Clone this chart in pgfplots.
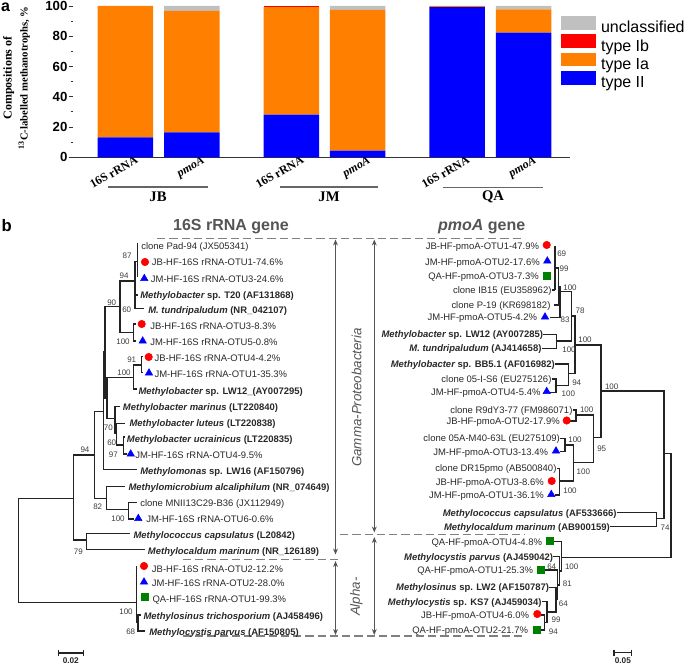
\documentclass[border=0pt]{standalone}
\usepackage{fontspec}
\setmainfont{Liberation Sans}
\newfontfamily\tnr{Liberation Serif}
\usepackage{pgfplots}
\pgfplotsset{compat=1.18}
\usetikzlibrary{arrows.meta}

\definecolor{cII}{RGB}{0,0,255}
\definecolor{cIa}{RGB}{255,128,0}
\definecolor{cIb}{RGB}{255,0,0}
\definecolor{cun}{RGB}{192,192,192}
\definecolor{treec}{RGB}{35,35,35}
\definecolor{labc}{RGB}{40,40,40}
\definecolor{bsc}{RGB}{60,60,60}
\definecolor{titc}{RGB}{85,85,85}
\definecolor{dashc}{RGB}{128,128,128}
\definecolor{sqg}{RGB}{0,128,0}

\newcommand\lab{\fontsize{7.1}{8}\selectfont}
% leaf label, text starts at x (left tree)
\newcommand{\leafL}[3]{\node[anchor=base west,inner sep=0pt,yshift=-2.54pt,text=labc,font=\lab] at (axis cs:#1,#2) {#3};}
% leaf label, text ends at x (right tree)
\newcommand{\leafR}[3]{\node[anchor=base east,inner sep=0pt,yshift=-2.54pt,text=labc,font=\lab] at (axis cs:#1,#2) {#3};}
% bootstrap value
\newcommand{\bs}[3]{\node[inner sep=0pt,text=bsc,font=\fontsize{6}{6}\selectfont] at (axis cs:#1,#2) {#3};}
\newcommand{\seg}[1]{\addplot[treec,line width=0.95pt,mark=none] coordinates {#1};}

\begin{document}
\begin{tikzpicture}
\begin{axis}[
  at={(0,0)}, anchor=south west,
  scale only axis, width=513.75pt, height=499.5pt,
  xmin=0, xmax=685, ymin=0, ymax=666, y dir=reverse,
  hide axis, clip=false]
\coordinate (tl) at (axis cs:0,0);
\coordinate (br) at (axis cs:685,666);
\coordinate (barsw) at (axis cs:73,157.3);

% ---------- panel a annotations ----------
\node[font=\bfseries\fontsize{12}{12}\selectfont] at (axis cs:5.5,7.5) {a};
\node[rotate=90,align=center,font=\tnr\bfseries] at (axis cs:16.5,78)
  {\fontsize{9}{13.5}\selectfont Compositions of\\\fontsize{8}{13.5}\selectfont\textsuperscript{13}C-labelled methanotrophs, \%};
\addplot[black!60,line width=0.9pt,mark=none] coordinates {(108,187)(208,187)};
\addplot[black!60,line width=0.9pt,mark=none] coordinates {(280,187)(378.3,187)};
\addplot[black!60,line width=0.9pt,mark=none] coordinates {(443.3,187.5)(542.7,187.5)};
\node[font=\tnr\bfseries\fontsize{11}{11}\selectfont] at (axis cs:158,197) {JB};
\node[font=\tnr\bfseries\fontsize{11}{11}\selectfont] at (axis cs:329,197) {JM};
\node[font=\tnr\bfseries\fontsize{11}{11}\selectfont] at (axis cs:493,197) {QA};

% ---------- panel b headers ----------
\node[font=\bfseries\fontsize{12.5}{12.5}\selectfont] at (axis cs:6.7,226) {b};
\node[font=\bfseries\fontsize{12}{12}\selectfont,text=titc] at (axis cs:231,226.7) {16S rRNA gene};
\node[font=\bfseries\fontsize{12}{12}\selectfont,text=titc] at (axis cs:481.7,226.7) {\textit{pmoA} gene};
\node[rotate=90,font=\itshape\fontsize{10}{10}\selectfont,text=titc] at (axis cs:356.5,397.5) {Gamma-Proteobacteria};
\node[rotate=90,font=\itshape\fontsize{10}{10}\selectfont,text=titc] at (axis cs:356.5,596.7) {Alpha-};

% dashed group separators and arrows
\addplot[dashc,line width=1pt,dash pattern=on 6.2pt off 3pt,mark=none] coordinates {(157,238.5)(525,238.5)};
\addplot[dashc,line width=1pt,dash pattern=on 6.2pt off 3pt,mark=none] coordinates {(182.7,559.3)(340,559.3)};
\addplot[dashc,line width=1pt,dash pattern=on 6.2pt off 3pt,mark=none] coordinates {(340,534.3)(525,534.3)};
\addplot[dashc,line width=1pt,dash pattern=on 6.2pt off 3pt,mark=none] coordinates {(182.7,636)(525,636)};
\addplot[titc,line width=0.6pt,mark=none,{Stealth[length=4.5pt,width=3.6pt]}-{Stealth[length=4.5pt,width=3.6pt]}] coordinates {(335.5,239.5)(335.5,554.5)};
\addplot[titc,line width=0.6pt,mark=none,{Stealth[length=4.5pt,width=3.6pt]}-{Stealth[length=4.5pt,width=3.6pt]}] coordinates {(335.5,561)(335.5,635)};
\addplot[titc,line width=0.6pt,mark=none,{Stealth[length=4.5pt,width=3.6pt]}-{Stealth[length=4.5pt,width=3.6pt]}] coordinates {(374.3,239.5)(374.3,532.5)};
\addplot[titc,line width=0.6pt,mark=none,{Stealth[length=4.5pt,width=3.6pt]}-{Stealth[length=4.5pt,width=3.6pt]}] coordinates {(374.3,537)(374.3,635)};

% ---------- 16S rRNA tree ----------
\seg{(73.3,498.3)(18.3,498.3)(18.3,602.3)(136.7,602.3)}
\seg{(94.3,455)(73.3,455)(73.3,540)(86.7,540)}
\seg{(130,533.3)(86.7,533.3)(86.7,549.3)(145,549.3)}
\seg{(103.3,411.7)(94.3,411.7)(94.3,498.3)(106.7,498.3)}
\seg{(125,486.7)(106.7,486.7)(106.7,509.3)(128.3,509.3)}
\seg{(136.7,502.3)(128.3,502.3)(128.3,519)(134,519)}
\seg{(105,352)(103.3,352)(103.3,469.3)(136.7,469.3)}
\seg{(120,306.7)(105,306.7)(105,398)(107,398)}
\seg{(133.3,377.3)(107,377.3)(107,418.3)(115,418.3)}
\seg{(120,406.7)(115,406.7)(115,433)(116.7,433)}
\seg{(125,423.3)(116.7,423.3)(116.7,445)(123.3,445)}
\seg{(125,437)(123.3,437)(123.3,454)(127,454)}
\seg{(136.7,389)(133.3,389)(133.3,365)(141.7,365)}
\seg{(143,356.7)(141.7,356.7)(141.7,372.7)(143,372.7)}
\seg{(133.3,332.3)(120,332.3)(120,281)(135,281)}
\seg{(136,324)(133.3,324)(133.3,341)(136,341)}
\seg{(137.3,261.7)(135,261.7)(135,308.3)(144,308.3)}
\seg{(135,295)(138,295)}
\seg{(137.3,243)(137.3,277)}
\seg{(136.7,566)(136.7,623)}
\seg{(136.7,622)(138,622)}
\seg{(141,615)(138,615)(138,631)(145,631)}
% scale bar
\seg{(58.3,653)(83.3,653)}
\seg{(58.3,650)(58.3,656)}
\seg{(83.3,650)(83.3,656)}
\node[font=\bfseries\fontsize{6.2}{6.2}\selectfont,text=labc] at (axis cs:70.8,661) {0.02};

\leafL{141}{246}{clone Pad-94 (JX505341)}
\leafL{151.7}{262.3}{JB-HF-16S rRNA-OTU1-74.6\%}
\leafL{150.7}{279}{JM-HF-16S rRNA-OTU3-24.6\%}
\leafL{140}{295}{\bfseries\itshape Methylobacter\upshape\ sp. T20 (AF131868)}
\leafL{148}{310}{\bfseries\itshape M. tundripaludum\upshape\ (NR\_042107)}
\leafL{150}{326}{JB-HF-16S rRNA-OTU3-8.3\%}
\leafL{150}{342.3}{JM-HF-16S rRNA-OTU5-0.8\%}
\leafL{154.3}{358.3}{JB-HF-16S rRNA-OTU4-4.2\%}
\leafL{154.3}{374}{JM-HF-16S rRNA-OTU1-35.3\%}
\leafL{138.3}{390.7}{\bfseries\itshape Methylobacter\upshape\ sp. LW12\_(AY007295)}
\leafL{122.7}{406.7}{\bfseries\itshape Methylobacter marinus\upshape\ (LT220840)}
\leafL{129.3}{422.7}{\bfseries\itshape Methylobacter luteus\upshape\ (LT220838)}
\leafL{126.7}{439}{\bfseries\itshape Methylobacter ucrainicus\upshape\ (LT220835)}
\leafL{135}{455}{JM-HF-16S rRNA-OTU4-9.5\%}
\leafL{140}{470.7}{\bfseries\itshape Methylomonas\upshape\ sp. LW16 (AF150796)}
\leafL{128.3}{486.7}{\bfseries\itshape Methylomicrobium alcaliphilum\upshape\ (NR\_074649)}
\leafL{140}{503.3}{clone MNII13C29-B36 (JX112949)}
\leafL{146}{519}{JM-HF-16S rRNA-OTU6-0.6\%}
\leafL{133.3}{535}{\bfseries\itshape Methylococcus capsulatus\upshape\ (L20842)}
\leafL{147.7}{551}{\bfseries\itshape Methylocaldum marinum\upshape\ (NR\_126189)}
\leafL{151.7}{569}{JB-HF-16S rRNA-OTU2-12.2\%}
\leafL{151.7}{583.3}{JM-HF-16S rRNA-OTU2-28.0\%}
\leafL{152.3}{599}{QA-HF-16S rRNA-OTU1-99.3\%}
\leafL{143.3}{615.7}{\bfseries\itshape Methylosinus trichosporium\upshape\ (AJ458496)}
\leafL{149}{631.7}{\bfseries\itshape Methylocystis parvus\upshape\ (AF150805)}

\bs{127}{256}{87}
\bs{124}{276}{94}
\bs{111.7}{302.3}{90}
\bs{126.7}{310}{60}
\bs{123}{342}{100}
\bs{131.7}{360}{91}
\bs{124}{372.7}{100}
\bs{108.3}{427.3}{70}
\bs{111.7}{442.7}{60}
\bs{113.3}{454.5}{97}
\bs{85}{450}{94}
\bs{97.7}{506.7}{82}
\bs{118}{519}{100}
\bs{78.3}{551.5}{79}
\bs{126}{611.7}{100}
\bs{130.7}{631.7}{68}

% ---------- pmoA tree ----------
\seg{(555,245.7)(555,290)}
\seg{(551.7,290)(555,290)}
\seg{(555,268)(558.3,268)(558.3,305)(554,305)}
\seg{(558.3,286.5)(560,286.5)(560,317.3)(549.5,317.3)}
\seg{(560,291.7)(571.7,291.7)(571.7,341)(556.7,341)}
\seg{(543.3,334.3)(556.7,334.3)(556.7,348.3)(541.7,348.3)}
\seg{(571.7,316)(575,316)(575,373.3)(568.3,373.3)}
\seg{(555,364)(568.3,364)(568.3,385.7)(556,385.7)}
\seg{(551.7,379)(556,379)(556,392.3)(550,392.3)}
\seg{(575,345)(601,345)(601,437.3)(593.3,437.3)}
\seg{(572.7,410)(576,410)(576,421)(570,421)}
\seg{(576,415)(593.3,415)(593.3,462.7)(573.3,462.7)}
\seg{(560,438.3)(565,438.3)(565,451.7)(559.5,451.7)}
\seg{(565,445)(573.3,445)(573.3,481)(559.3,481)}
\seg{(556.7,468.3)(559.3,468.3)(559.3,495)(555,495)}
\seg{(601,391)(664,391)(664,518.3)(656.7,518.3)}
\seg{(616.7,512.7)(656.7,512.7)(656.7,526.7)(610,526.7)}
\seg{(664,453.3)(671,453.3)(671,557.3)(561.7,557.3)}
\seg{(554,541.7)(561.7,541.7)(561.7,571)(559.3,571)}
\seg{(553.3,556.7)(559.3,556.7)(559.3,585)(557.3,585)}
\seg{(545,570)(557.3,570)(557.3,599.7)(556,599.7)}
\seg{(549.3,587.3)(556,587.3)(556,612)(547,612)}
\seg{(541.7,601.7)(547,601.7)(547,622.5)(544.5,622.5)}
\seg{(541,615)(544.5,615)(544.5,630)(541,630)}
% scale bar
\seg{(614,652.5)(631.7,652.5)}
\seg{(614,649.5)(614,655.5)}
\seg{(631.7,649.5)(631.7,655.5)}
\node[font=\bfseries\fontsize{6.2}{6.2}\selectfont,text=labc] at (axis cs:622.8,661) {0.05};

\leafR{539.3}{245.7}{JB-HF-pmoA-OTU1-47.9\%}
\leafR{540}{261.7}{JM-HF-pmoA-OTU2-17.6\%}
\leafR{539}{276}{QA-HF-pmoA-OTU3-7.3\%}
\leafR{551.7}{290}{clone IB15 (EU358962)}
\leafR{550.7}{305}{clone P-19 (KR698182)}
\leafR{537.3}{317.3}{JM-HF-pmoA-OTU5-4.2\%}
\leafR{543.3}{334.3}{\bfseries\itshape Methylobacter\upshape\ sp. LW12 (AY007285)}
\leafR{541.7}{348.3}{\bfseries\itshape M. tundripaludum\upshape\ (AJ414658)}
\leafR{555}{364}{\bfseries\itshape Methylobacter\upshape\ sp. BB5.1 (AF016982)}
\leafR{551.7}{379}{clone 05-I-S6 (EU275126)}
\leafR{540.7}{392.3}{JM-HF-pmoA-OTU4-5.4\%}
\leafR{572.7}{410}{clone R9dY3-77 (FM986071)}
\leafR{560}{421}{JB-HF-pmoA-OTU2-17.9\%}
\leafR{560}{438.3}{clone 05A-M40-63L (EU275109)}
\leafR{548.3}{451.7}{JM-HF-pmoA-OTU3-13.4\%}
\leafR{556.7}{468.3}{clone DR15pmo (AB500840)}
\leafR{544}{481.7}{JB-HF-pmoA-OTU3-8.6\%}
\leafR{544}{495}{JM-HF-pmoA-OTU1-36.1\%}
\leafR{616.7}{512.7}{\bfseries\itshape Methylococcus capsulatus\upshape\ (AF533666)}
\leafR{610}{526.7}{\bfseries\itshape Methylocaldum marinum\upshape\ (AB900159)}
\leafR{542.3}{541.7}{QA-HF-pmoA-OTU4-4.8\%}
\leafR{553.3}{556.7}{\bfseries\itshape Methylocystis parvus\upshape\ (AJ459042)}
\leafR{533.3}{570}{QA-HF-pmoA-OTU1-25.3\%}
\leafR{549.3}{587.3}{\bfseries\itshape Methylosinus\upshape\ sp. LW2 (AF150787)}
\leafR{541.7}{601.7}{\bfseries\itshape Methylocystis\upshape\ sp. KS7 (AJ459034)}
\leafR{529.3}{615}{JB-HF-pmoA-OTU4-6.0\%}
\leafR{528.3}{630}{QA-HF-pmoA-OTU2-21.7\%}

\bs{561.7}{253.3}{69}
\bs{564}{268.3}{99}
\bs{570}{287.3}{100}
\bs{565}{319.3}{83}
\bs{580}{311}{78}
\bs{569}{349.5}{100}
\bs{585}{340}{100}
\bs{576.7}{382.7}{94}
\bs{568.3}{393.3}{100}
\bs{611.7}{386.7}{100}
\bs{586.7}{410}{100}
\bs{575}{439.3}{100}
\bs{601.7}{448.3}{95}
\bs{583.3}{471.7}{100}
\bs{570}{490.7}{100}
\bs{665}{527.3}{74}
\bs{551.7}{566.7}{64}
\bs{571.7}{566.7}{100}
\bs{567.3}{584}{81}
\bs{563.3}{603.3}{64}
\bs{556}{620}{99}
\bs{553.3}{631.7}{94}

% ---------- markers (OTUs) ----------
\addplot[only marks,mark=*,mark size=2.8pt,color=cIb] coordinates {
  (145,262) (141.7,324) (148.7,357) (144,566)
  (546.7,245) (566.7,420.5) (551.7,481) (537.3,614)};
\addplot[only marks,mark=triangle*,mark size=3.2pt,color=cII] coordinates {
  (144.3,278.5) (142.7,341) (149,373) (130.7,454) (138.3,518.5) (144,582)
  (547.3,261) (545,317) (546.7,391.5) (556,451) (551.3,494.5)};
\addplot[only marks,mark=square*,mark size=2.6pt,color=sqg] coordinates {
  (144.3,596.7) (546.7,275.5) (550,540.5) (540.7,569.5) (536.7,629.5)};
\end{axis}

% ---------- panel a: stacked bars ----------
\begin{axis}[
  at={(barsw)}, anchor=south west,
  scale only axis, width=372.75pt, height=113.5pt,
  ybar stacked, bar width=0.836,
  xmin=-0.79, xmax=6.70, ymin=0, ymax=100,
  axis x line*=bottom, axis y line*=left,
  y axis line style={draw=none},
  x axis line style={draw=black!80,line width=0.9pt},
  xtick={0,1,2.5,3.5,5,6},
  xticklabels={16S rRNA,\textit{pmoA},16S rRNA,\textit{pmoA},16S rRNA,\textit{pmoA}},
  xticklabel style={rotate=30,anchor=north east,xshift=9.4pt,yshift=1.5pt,inner sep=1pt,
    font=\tnr\bfseries\fontsize{9}{10}\selectfont},
  xtick style={draw=none},
  ytick={0,20,40,60,80,100}, minor y tick num=1,
  tick align=outside, major tick length=3pt, minor tick length=1.8pt,
  ytick style={black!80,line width=0.6pt},
  yticklabel style={font=\bfseries\fontsize{9.9}{10}\selectfont,inner sep=1pt},
  /pgf/number format/assume math mode=true,
  reverse legend, legend cell align=left,
  legend style={at={(0.982,0.934)},anchor=north west,draw=none,fill=none,
    inner sep=0pt,outer sep=0pt,font=\fontsize{12}{12}\selectfont,
    row sep=-1.3pt,column sep=4pt,
    nodes={inner sep=0pt,text height=8.6pt,text depth=2.5pt}},
  legend image code/.code={\fill[#1] (0pt,-0.9pt) rectangle (26pt,9.5pt);},
]
\addplot[fill=cII,draw=none] coordinates {(0,13.2) (1,16.5) (2.5,28.2) (3.5,4.4) (5,99.2) (6,82.4)};
\addplot[fill=cIa,draw=none] coordinates {(0,86.8) (1,80.2) (2.5,71.1) (3.5,93.0) (5,0.8) (6,15.4)};
\addplot[fill=cIb,draw=none] coordinates {(0,0) (1,0) (2.5,0.7) (3.5,0) (5,0) (6,0)};
\addplot[fill=cun,draw=none] coordinates {(0,0) (1,3.3) (2.5,0) (3.5,2.6) (5,0) (6,2.2)};
\legend{type II,type Ia,type Ib,unclassified}
\end{axis}
\pgfresetboundingbox
\path[use as bounding box] (tl) rectangle (br);
\end{tikzpicture}
\end{document}
